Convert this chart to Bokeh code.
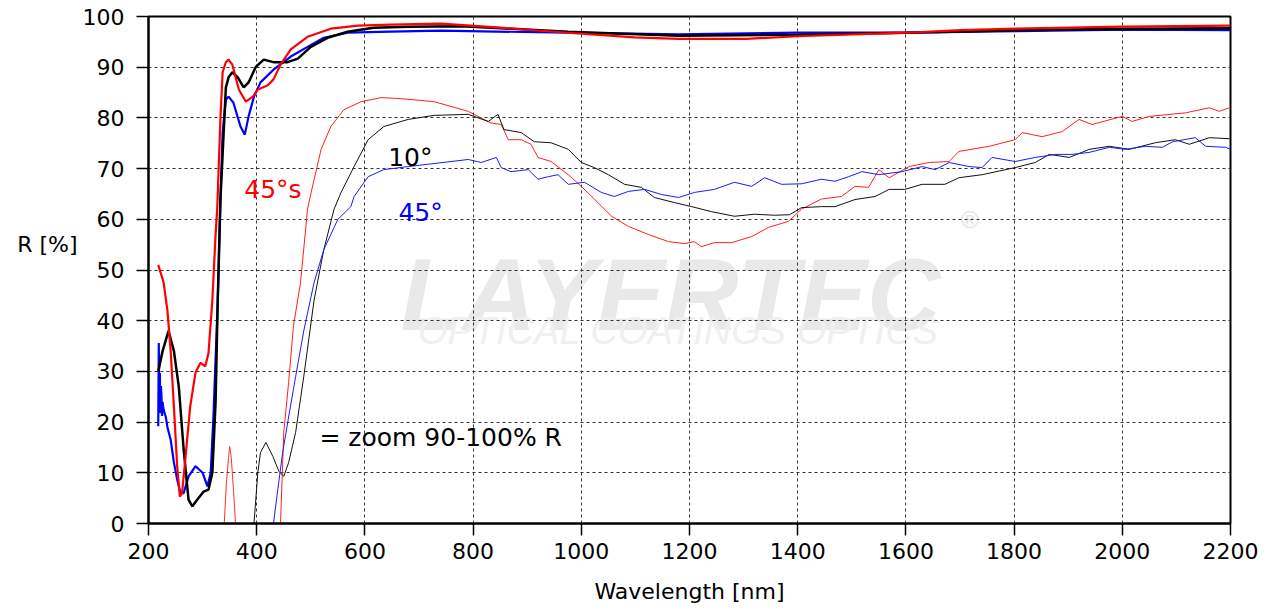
from bokeh.plotting import figure
from bokeh.models import Label, Range1d, FixedTicker, LinearAxis
from bokeh.core.properties import value
from bokeh.embed import file_html
from bokeh.resources import INLINE

# ---------------- data ----------------
x_ticks = [200, 400, 600, 800, 1000, 1200, 1400, 1600, 1800, 2000, 2200]
y_ticks = [0, 10, 20, 30, 40, 50, 60, 70, 80, 90, 100]

# thick curves: reflectance R [%]
r10_x = [218, 226, 237, 247, 256, 265, 274, 281, 290, 302,
         311, 318, 324, 328, 333, 343, 348, 355, 365, 376,
         385, 398, 413, 431, 457, 476, 500, 531, 568, 616,
         680, 780, 975, 1180, 1400, 1602, 1805, 2002, 2200]
r10_y = [30, 34, 38, 34, 27, 14.6, 4.7, 3.4, 4.7, 6.3,
         6.7, 10, 24, 44, 64, 86, 88, 89, 88, 86,
         87, 90, 91.5, 91, 91, 91.7, 94, 95.8, 97, 97.8,
         98, 98.1, 97.0, 96.2, 96.4, 96.8, 97.3, 97.6, 97.7]

r45s_x = [218, 228, 235, 241, 247, 253, 258, 262, 268, 277,
          287, 296, 305, 311, 318, 324, 327, 333, 337, 343,
          348, 355, 367, 380, 393, 402, 420, 431, 444, 463,
          494, 537, 587, 648, 741, 850, 975, 1098, 1180, 1305,
          1400, 1602, 1702, 1805, 2002, 2200]
r45s_y = [51, 47.5, 42, 34, 23, 11.3, 5.3, 6, 12.6, 23,
          29.8, 31.7, 31, 33.7, 44, 57, 62, 80, 89, 91,
          91.5, 90.5, 85.6, 83.2, 84.2, 85.6, 86.4, 87.6, 90.5, 93.5,
          96, 97.6, 98.2, 98.4, 98.6, 97.8, 96.8, 95.9, 95.6, 95.6,
          96.1, 96.8, 97.3, 97.6, 98.0, 98.2]

r45_x = [218, 219, 220, 221, 222, 223, 224, 225, 226, 227,
         229, 232, 235, 241, 247, 253, 259, 265, 274, 287,
         300, 309, 315, 320, 328, 333, 337, 343, 348, 357,
         370, 378, 385, 395, 407, 431, 463, 494, 524, 568,
         648, 741, 975, 1180, 1400, 1602, 1805, 2002, 2200]
r45_y = [19.2, 35.6, 24.5, 29.7, 21.8, 27.1, 25.1, 21.2, 24, 23.1,
         22, 21, 19, 16.5, 12, 8.7, 6, 6, 9.3, 11.3,
         10, 7.3, 10, 21, 44, 64, 77, 83.6, 84.2, 83,
         78.3, 76.7, 80.3, 84.2, 87, 89.5, 92.1, 94, 95.8, 96.8,
         97, 97.2, 96.8, 96.5, 96.8, 96.8, 97.1, 97.4, 97.3]

# thin curves: zoom 90-100 % R (90 % -> 0, 100 % -> 100)
z45s_spike_x = [340, 344, 348, 350, 353, 357, 361]
z45s_spike_y = [0, 8, 13, 15.2, 13, 6.7, 0]

z45s_x = [444, 450, 459, 468, 481, 494, 500, 519, 537, 561,
          593, 630, 667, 728, 791, 809, 833, 852, 865, 889,
          907, 920, 944, 976, 1000, 1024, 1056, 1087, 1124, 1161,
          1191, 1209, 1222, 1246, 1278, 1315, 1346, 1383, 1407, 1444,
          1481, 1506, 1531, 1550, 1569, 1606, 1643, 1680, 1698, 1754,
          1802, 1815, 1852, 1889, 1920, 1944, 2000, 2018, 2050, 2117,
          2161, 2179, 2198]
z45s_y = [0, 18, 27.8, 39, 47.5, 62, 65, 73.8, 78.3, 81.6,
          83.2, 84, 83.8, 83.2, 81.3, 80.3, 79, 78.7, 75.7, 75.7,
          74.8, 72.2, 71.4, 68.8, 66.5, 64, 60.6, 58.6, 57, 55.6,
          55.2, 55.6, 54.6, 55.4, 55.4, 56.6, 58.4, 59.6, 62, 64,
          64.5, 66.5, 66.3, 69.8, 68.2, 70.4, 71.2, 71.4, 73.4, 74.4,
          75.7, 77.1, 76.3, 77.3, 79.7, 78.7, 80.3, 79.3, 80.3, 81,
          82, 81.3, 82]

z10_x = [395, 402, 407, 417, 430, 441, 450, 459, 472, 487,
         506, 524, 543, 556, 580, 606, 635, 680, 728, 791,
         828, 846, 857, 889, 913, 944, 976, 1000, 1024, 1050,
         1080, 1111, 1135, 1172, 1204, 1241, 1283, 1320, 1357, 1385,
         1407, 1444, 1469, 1506, 1543, 1569, 1598, 1630, 1672, 1698,
         1741, 1802, 1839, 1865, 1902, 1939, 1976, 2013, 2061, 2098,
         2124, 2161, 2198]
z10_y = [0, 10, 14, 16, 13.2, 10.3, 9.3, 12, 18, 29,
         44, 54, 62, 65.3, 70.4, 75.7, 78.3, 79.7, 80.5, 80.7,
         79.3, 80.7, 77.7, 77.1, 75.3, 75.1, 73.8, 71.2, 70.2, 68.8,
         66.9, 66.3, 64.3, 63.3, 62.5, 61.5, 60.6, 61, 60.8, 60.9,
         62.3, 62.5, 62.5, 63.9, 64.5, 65.9, 65.9, 66.9, 66.9, 68.2,
         68.8, 70.2, 71.2, 72.8, 72.2, 73.8, 74.4, 73.8, 75.1, 75.7,
         74.8, 76.1, 75.9]

z45_x = [431, 439, 448, 459, 472, 487, 506, 524, 550, 574,
         580, 606, 635, 680, 728, 791, 815, 843, 852, 870,
         902, 920, 939, 957, 976, 1006, 1037, 1061, 1087, 1117,
         1148, 1180, 1209, 1246, 1283, 1315, 1339, 1370, 1407, 1444,
         1469, 1494, 1519, 1550, 1593, 1630, 1654, 1680, 1717, 1741,
         1759, 1802, 1839, 1852, 1876, 1907, 1939, 1976, 2006, 2043,
         2074, 2093, 2135, 2154, 2191, 2200]
z45_y = [0, 6.7, 14, 21, 29, 38, 47.5, 54, 60, 62.5,
         64.5, 68.4, 69.8, 70.4, 71, 71.8, 71.2, 72.2, 70.2, 69.4,
         69.8, 67.9, 68.4, 68.8, 66.9, 67.3, 65.3, 64.5, 65.5, 65.9,
         64.9, 64.3, 65.3, 65.9, 67.3, 66.5, 68.2, 66.9, 67, 67.9,
         67.5, 68.4, 69.4, 68.8, 69.4, 70.4, 69.8, 71.2, 70.4, 70.2,
         72.2, 71.4, 72.2, 72.4, 72.8, 72.8, 73.2, 74.2, 73.8, 74.4,
         74.2, 75.3, 76.1, 74.4, 74.2, 73.8]

y_label_tick = [55]
y_label_text = "R [%]"

FONT = "DejaVu Sans"

def pair(xs, ys):
    n = min(len(xs), len(ys))
    return xs[:n], ys[:n]

p = figure(width=1262, height=606, output_backend="svg", toolbar_location=None,
           x_range=Range1d(200, 2200), y_range=Range1d(0, 100),
           min_border_left=148, min_border_right=32, min_border_top=16,
           min_border_bottom=83)
p.background_fill_color = "white"
p.border_fill_color = "white"
p.outline_line_color = "black"
p.outline_line_width = 2

# axes
p.xaxis.ticker = FixedTicker(ticks=x_ticks)
p.yaxis.ticker = FixedTicker(ticks=y_ticks)
for ax in (p.xaxis[0], p.yaxis[0]):
    ax.axis_line_color = "black"
    ax.axis_line_width = 2
    ax.major_tick_line_color = "black"
    ax.major_tick_line_width = 1.5
    ax.major_tick_in = 0
    ax.major_tick_out = 12
    ax.minor_tick_line_color = None
    ax.major_label_text_font = FONT
    ax.major_label_text_font_size = "22px"
    ax.major_label_text_color = "black"
p.xaxis.major_label_standoff = 7
p.yaxis.major_label_standoff = 12
p.xaxis.axis_label = "Wavelength [nm]"
p.xaxis.axis_label_text_font = FONT
p.xaxis.axis_label_text_font_size = "22px"
p.xaxis.axis_label_text_font_style = "normal"
p.xaxis.axis_label_text_color = "black"
p.xaxis.axis_label_standoff = 17

# horizontal "R [%]" label as an extra outer axis with a single tick
lab_axis = LinearAxis(ticker=FixedTicker(ticks=y_label_tick),
                      major_label_overrides={y_label_tick[0]: y_label_text})
lab_axis.axis_line_color = None
lab_axis.major_tick_line_color = None
lab_axis.minor_tick_line_color = None
lab_axis.major_tick_out = 0
lab_axis.major_tick_in = 0
lab_axis.major_label_standoff = 2
lab_axis.major_label_text_font = FONT
lab_axis.major_label_text_font_size = "22px"
lab_axis.major_label_text_color = "black"
p.add_layout(lab_axis, "left")

# grid
for g in (p.xgrid[0], p.ygrid[0]):
    g.grid_line_color = "#333333"
    g.grid_line_width = 1
    g.grid_line_dash = "3 3"

# watermark
p.text(x=[1165], y=[45], text=["LAYERTEC"], text_font=value("Liberation Sans"),
       text_font_style="bold italic", text_font_size="102px", text_color="#e9e9e9",
       text_align="center", text_baseline="alphabetic", level="image")
p.text(x=[1718], y=[60], text=["®"], text_font=value("Liberation Sans"),
       text_font_size="24px", text_color="#e2e2e2",
       text_align="center", text_baseline="middle", level="image")
p.text(x=[1199], y=[37.9], text=["OPTICAL COATINGS   OPTICS"], text_font=value("Liberation Sans"),
       text_font_style="italic", text_font_size="38px", text_color="#f0f0f0",
       text_align="center", text_baseline="alphabetic", level="image")

# thin (zoomed) curves
x, y = pair(z45s_spike_x, z45s_spike_y)
p.line(x, y, line_color="#ff3030", line_width=1)
x, y = pair(z45s_x, z45s_y)
p.line(x, y, line_color="#ff2020", line_width=1)
x, y = pair(z10_x, z10_y)
p.line(x, y, line_color="#111111", line_width=1)
x, y = pair(z45_x, z45_y)
p.line(x, y, line_color="#1a1aff", line_width=1)

# thick curves
x, y = pair(r45_x, r45_y)
p.line(x, y, line_color="#0000ff", line_width=2.2)
x, y = pair(r10_x, r10_y)
p.line(x, y, line_color="#000000", line_width=2.5)
x, y = pair(r45s_x, r45s_y)
p.line(x, y, line_color="#ff0000", line_width=2.2)

# text labels
def lab(x, y, t, c):
    p.add_layout(Label(x=x, y=y, text=t, text_color=c, text_font=FONT,
                       text_font_size="25px", text_baseline="alphabetic", text_align="left"))

lab(643, 72.2, "10°", "black")
lab(377, 65.9, "45°s", "#ff0000")
lab(662, 61.3, "45°", "#0000ff")
lab(516, 17.0, "= zoom 90-100% R", "black")

open("out.html", "w").write(file_html(p, INLINE))
